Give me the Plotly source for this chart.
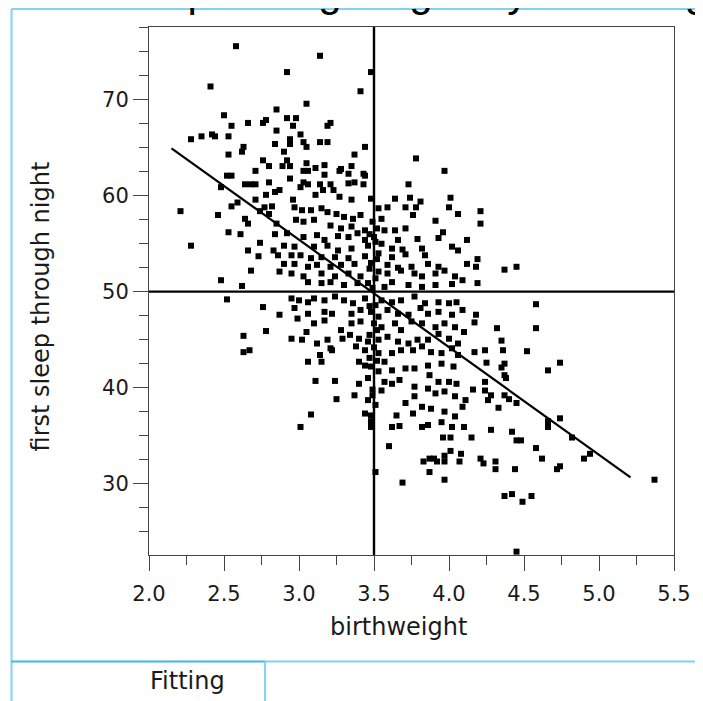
import plotly.graph_objects as go

# ---------------- data ----------------
bw_a = [2.58, 3.14, 2.92, 3.48, 3.41, 2.41, 3.05, 2.85, 2.50, 2.92, 2.98, 2.78, 2.76, 2.66, 2.55, 3.21, 3.19,
        2.96, 2.85, 2.35, 2.28, 2.42, 2.44, 2.53, 3.01, 2.94, 2.94, 2.84, 3.03, 3.14, 3.19, 2.63, 3.05, 3.44,
        2.62, 2.90, 2.53, 3.37, 2.76, 2.92, 2.80, 2.89, 2.94, 3.05, 3.17, 3.11, 3.28, 3.35, 2.71, 3.03, 3.06,
        3.17, 3.27, 3.33, 3.43, 3.44, 2.52, 2.55, 2.94, 2.48, 2.64, 2.68, 2.71, 2.80, 3.03, 3.06, 3.01, 3.14,
        3.16, 3.21, 3.23, 3.33, 3.37, 3.43, 2.78, 2.84, 2.87, 3.11, 3.27, 2.71, 2.96, 3.35, 3.48]
sl_a = [75.6, 74.6, 72.9, 72.9, 70.9, 71.4, 69.6, 69.0, 68.4, 68.1, 68.1, 67.9, 67.6, 67.6, 67.3, 67.6, 67.3,
        67.3, 66.8, 66.2, 65.9, 66.4, 66.2, 66.2, 66.4, 65.9, 65.4, 65.4, 65.6, 65.6, 65.6, 65.1, 65.1, 65.1,
        64.6, 64.6, 64.3, 64.3, 63.7, 63.7, 63.1, 63.1, 63.1, 63.4, 63.2, 62.9, 62.8, 63.1, 62.6, 62.6, 62.6,
        62.2, 62.6, 62.3, 62.3, 62.1, 62.1, 62.1, 61.8, 60.9, 61.2, 61.2, 61.2, 61.4, 61.4, 61.2, 60.9, 61.2,
        60.6, 61.2, 60.6, 61.3, 61.4, 61.2, 60.1, 60.4, 60.6, 60.1, 59.9, 59.6, 59.6, 59.6, 59.7]

bw_b = [3.78, 3.97, 3.73, 3.64, 3.74, 4.01]
sl_b = [63.9, 62.6, 61.2, 59.7, 59.8, 59.8]

bw_c = [2.59, 2.55, 2.77, 2.82, 2.74, 2.80, 2.64, 2.66, 2.85, 2.53, 2.61, 2.84, 2.74, 2.66, 2.73, 2.83,
        2.86, 2.68, 2.87, 2.48, 2.62, 2.52, 2.76, 2.87, 2.78, 2.63, 2.63, 2.67, 2.28, 2.21, 2.46]
sl_c = [59.3, 58.9, 58.8, 58.9, 58.4, 58.1, 57.6, 57.1, 57.1, 56.2, 56.0, 56.0, 55.1, 54.3, 53.7, 54.3,
        53.8, 52.2, 52.1, 51.2, 50.6, 49.2, 48.4, 47.6, 45.9, 45.4, 43.7, 43.9, 54.8, 58.4, 58.0]

bw_d = [3.81, 2.97, 3.02, 3.08, 3.15, 3.19, 3.25, 3.30, 3.36, 3.41, 3.53, 3.59, 3.71, 3.78, 4.00, 4.06,
        3.76, 3.55, 3.49, 2.98, 3.03, 3.10, 3.21, 3.28, 3.35, 3.44, 3.91, 3.52, 3.57, 3.64, 3.71, 3.96,
        2.92, 3.03, 3.12, 3.17, 3.26, 3.33, 3.39, 3.44, 3.50, 3.55, 3.66, 3.79, 3.93, 4.12,
        2.90, 2.97, 3.10, 3.19, 3.26, 3.35, 3.46, 3.62, 3.69, 3.82, 4.02, 4.06,
        2.95, 3.01, 3.08, 3.15, 3.24, 3.33, 3.44, 3.53, 3.62, 3.71, 3.84,
        2.90, 2.97, 3.06, 3.12, 3.21, 3.28, 3.37, 3.48, 3.59, 3.66, 3.75, 3.86, 3.93, 4.12,
        2.95, 3.03, 3.15, 3.24, 3.33, 3.41, 3.53, 3.59, 3.68, 3.77, 3.82, 3.91, 3.97, 4.04, 4.09,
        3.06, 3.15, 3.21, 3.30, 3.39, 3.46, 3.57, 3.62, 3.73, 3.82, 3.91, 4.02]
sl_d = [59.4, 58.8, 58.5, 58.5, 58.7, 58.3, 58.1, 57.8, 57.6, 58.0, 58.7, 58.8, 58.8, 58.8, 58.8, 58.1,
        58.0, 57.6, 57.3, 57.5, 57.3, 57.5, 56.9, 56.6, 56.8, 56.4, 57.4, 56.6, 56.4, 56.4, 56.6, 56.2,
        56.1, 55.7, 55.9, 55.4, 55.8, 55.7, 56.1, 55.4, 55.7, 55.0, 55.4, 55.5, 55.6, 55.4,
        54.8, 54.7, 54.7, 54.8, 54.3, 54.5, 54.8, 54.5, 54.4, 54.5, 54.7, 54.3,
        53.8, 53.8, 53.5, 53.6, 53.6, 53.5, 53.7, 54.0, 53.6, 53.9, 53.8,
        52.9, 52.9, 52.6, 52.8, 52.6, 52.8, 52.9, 53.0, 52.8, 52.5, 52.6, 52.9, 52.6, 52.9,
        51.9, 51.6, 51.9, 51.6, 51.9, 51.6, 52.1, 51.9, 52.2, 51.9, 51.6, 51.9, 52.2, 51.6, 51.2,
        51.0, 50.9, 51.0, 50.7, 50.9, 50.9, 50.5, 51.0, 50.7, 50.5, 50.7, 50.8]

bw_e = [2.95, 3.00, 3.06, 3.10, 3.17, 3.24, 3.30, 3.36, 3.44, 3.55, 3.62, 3.68, 3.77, 3.84, 3.93, 4.00, 4.05,
        2.97, 2.99, 3.06, 3.17, 3.22, 3.35, 3.41, 3.48, 3.53, 3.59, 3.66, 3.73, 3.81, 3.86, 3.93, 4.02, 4.09,
        3.10, 3.17, 3.28, 3.35, 3.41, 3.50, 3.55, 3.64, 3.68, 3.75, 3.82, 3.91, 3.97, 4.04, 4.10,
        2.95, 3.02, 3.05, 3.12, 3.19, 3.21, 3.29, 3.34, 3.40, 3.46, 3.53, 3.59, 3.66, 3.73, 3.79, 3.86, 3.93,
        4.00, 4.06,
        3.14, 3.22, 3.38, 3.44, 3.53, 3.62, 3.68, 3.76, 3.82, 3.88, 3.95, 4.02, 4.06,
        3.06, 3.15, 3.40, 3.44, 3.48, 3.57, 3.62, 3.71, 3.77, 3.86, 3.95, 4.03,
        3.11, 3.24, 3.40, 3.46, 3.53, 3.57, 3.62, 3.67, 3.77, 3.87, 3.93, 4.00, 4.05,
        3.25, 3.37, 3.46, 3.49, 3.55, 3.77, 3.86, 3.91, 3.97, 4.04, 4.11,
        3.08, 3.44, 3.48, 3.65, 3.71, 3.76, 3.82, 3.88, 3.97, 4.04, 4.09,
        3.01, 3.48, 3.62, 3.67, 3.82, 3.86, 3.95, 4.02, 4.10]
sl_e = [49.3, 49.1, 48.9, 49.3, 49.1, 49.5, 49.1, 48.8, 49.3, 49.1, 48.9, 49.1, 49.5, 48.8, 48.9, 48.8, 48.9,
        48.3, 47.2, 47.7, 47.9, 47.7, 47.7, 48.1, 47.9, 47.4, 48.1, 47.7, 47.6, 48.3, 47.7, 47.9, 47.6, 48.1,
        46.7, 47.0, 46.0, 46.7, 46.9, 46.7, 46.3, 46.7, 46.0, 46.9, 46.7, 46.3, 46.7, 46.3, 45.8,
        45.1, 45.0, 45.8, 44.6, 45.0, 44.1, 45.1, 45.5, 45.1, 44.8, 45.0, 45.3, 44.8, 44.6, 45.0, 45.0, 45.6,
        45.1, 44.6,
        43.4, 43.9, 44.3, 43.9, 43.6, 43.6, 43.9, 43.9, 44.3, 43.7, 43.6, 44.1, 43.4,
        42.7, 42.7, 42.7, 42.3, 42.2, 42.7, 41.8, 42.0, 42.0, 42.3, 42.5, 42.2,
        40.7, 40.7, 40.4, 41.0, 41.7, 40.6, 40.4, 40.8, 40.1, 41.3, 40.6, 40.6, 40.4,
        38.8, 39.2, 38.7, 39.2, 39.7, 39.1, 39.9, 39.4, 39.6, 39.1, 38.7,
        37.2, 37.3, 37.1, 37.1, 38.4, 37.3, 38.0, 37.8, 37.5, 37.0, 38.0,
        35.9, 35.9, 35.9, 36.0, 35.9, 36.1, 36.4, 35.9, 35.9]

bw_f = [4.21, 4.21, 4.19, 4.18, 4.19, 4.37, 4.45, 4.58, 4.58, 4.18, 4.17, 4.32, 4.35, 4.52, 4.24, 4.36,
        4.17, 4.25, 4.37, 4.74]
sl_f = [58.4, 57.1, 53.4, 52.6, 50.9, 52.3, 52.6, 48.7, 46.2, 47.6, 46.8, 46.2, 44.9, 43.8, 43.9, 43.9,
        43.7, 42.6, 42.5, 42.6]

bw_g = [4.66, 4.35, 4.37, 4.38, 4.24, 4.24, 4.16, 4.26, 4.28, 4.33, 4.37, 4.40, 4.45, 4.28, 4.42, 4.45,
        4.48, 4.58, 4.62, 4.66, 4.66, 4.74, 4.82, 4.90, 4.94, 4.74, 4.72, 5.37, 4.55, 4.49, 4.42, 4.37,
        4.44, 4.45, 4.31, 4.31, 4.21, 4.23, 3.96, 4.01, 4.15, 3.60, 4.01, 4.08, 3.83, 3.87, 3.90,
        3.92, 3.97, 3.97, 4.07, 3.87, 3.69, 3.97, 3.51]
sl_g = [41.8, 42.1, 41.3, 41.0, 40.6, 39.7, 39.8, 38.7, 39.2, 37.9, 39.2, 38.8, 38.4, 35.6, 35.4, 34.5,
        34.5, 33.7, 32.6, 36.5, 35.9, 36.8, 34.8, 32.6, 33.1, 31.8, 31.5, 30.4, 28.7, 28.1, 28.9, 28.7,
        31.5, 22.9, 31.5, 32.3, 32.6, 32.1, 34.8, 34.8, 34.8, 33.9, 33.4, 33.1, 32.3, 32.6, 32.6,
        32.3, 32.9, 32.3, 32.3, 31.2, 30.1, 30.4, 31.2]

# points in the solid black band along the 3.5 reference line
bw_h = [3.47, 3.51, 3.52, 3.47, 3.51, 3.49, 3.51, 3.47, 3.52, 3.47, 3.50, 3.47, 3.52, 3.49, 3.51, 3.48]
sl_h = [56.0, 55.2, 53.4, 52.4, 51.4, 50.4, 48.6, 48.5, 46.0, 45.5, 44.2, 43.1, 42.8, 39.8, 38.2, 36.5]

birthweight = bw_a + bw_b + bw_c + bw_d + bw_e + bw_f + bw_g + bw_h
first_sleep = sl_a + sl_b + sl_c + sl_d + sl_e + sl_f + sl_g + sl_h

# linear fit shown in the chart
fit_intercept = 89.05
fit_slope = -11.21
fit_x = [2.15, 5.21]
fit_y = [fit_intercept + fit_slope * v for v in fit_x]

ref_x = 3.5     # vertical reference line
ref_y = 50      # horizontal reference line

x_ticks = [2.0, 2.5, 3.0, 3.5, 4.0, 4.5, 5.0, 5.5]
y_ticks = [30, 40, 50, 60, 70]

title_text = "Bivariate Fit of first sleep through night By birthweight"
x_title = "birthweight"
y_title = "first sleep through night"
outline_label = "Fitting"

# ---------------- layout helpers ----------------
# the page body has an 8px margin, so the figure starts at window (8, 8)
OFF = 8
W, H = 703 - OFF, 701 - OFF
PLOT_L, PLOT_R, PLOT_T, PLOT_B = 149, 676, 27, 555          # window pixels
L, R, T, B = PLOT_L - OFF, W - (PLOT_R - OFF), PLOT_T - OFF, H - (PLOT_B - OFF)
PW, PH = W - L - R, H - T - B
XMAX, YMAX = 703, 701          # window extent reachable by the figure


def px(xw):
    """window x pixel -> paper x"""
    return (xw - OFF - L) / PW


def py(yw):
    """window y pixel -> paper y"""
    return (H - B - (yw - OFF)) / PH


FONT = "DejaVu Sans"
LIGHT_BLUE = "#80d2f2"
DARK_BLUE = "#3fb6e6"

fig = go.Figure()

fig.add_trace(go.Scatter(
    x=birthweight, y=first_sleep, mode="markers",
    marker=dict(symbol="square", size=6, color="black", line=dict(width=0)),
    showlegend=False, hoverinfo="x+y"))

fig.add_trace(go.Scatter(
    x=fit_x, y=fit_y, mode="lines",
    line=dict(color="black", width=2.2), showlegend=False))

axis_common = dict(
    showgrid=False, zeroline=False, showline=True, linecolor="#444", linewidth=1,
    mirror=True, ticks="outside", ticklen=15, tickwidth=1, tickcolor="#444",
    tickfont=dict(family=FONT, size=21, color="#1a1a1a"),
)

fig.update_xaxes(range=[2.0, 5.5], tickvals=x_ticks,
                 ticktext=[f"{v:.1f}" for v in x_ticks],
                 ticklabelstandoff=5,
                 minor=dict(dtick=0.25, tick0=2.0, ticks="outside", ticklen=9,
                            tickcolor="#444", tickwidth=1),
                 **axis_common)
fig.update_yaxes(range=[22.55, 77.6], tickvals=y_ticks,
                 ticktext=[str(v) for v in y_ticks],
                 minor=dict(dtick=2.5, tick0=0, ticks="outside", ticklen=9,
                            tickcolor="#444", tickwidth=1),
                 **axis_common)

annotations = [
    dict(text=x_title, x=px(399), y=py(627), xref="paper", yref="paper",
         showarrow=False, xanchor="center", yanchor="middle",
         font=dict(family=FONT, size=24, color="#1a1a1a")),
    dict(text=y_title, x=px(41), y=py(306), xref="paper", yref="paper",
         showarrow=False, xanchor="center", yanchor="middle", textangle=-90,
         font=dict(family=FONT, size=24, color="#1a1a1a")),
    dict(text=outline_label, x=px(188), y=py(681), xref="paper", yref="paper",
         showarrow=False, xanchor="center", yanchor="middle",
         font=dict(family=FONT, size=24, color="#1a1a1a")),
    dict(text=title_text, x=px(747), y=py(17), xref="paper", yref="paper",
         showarrow=False, xanchor="right", yanchor="bottom",
         font=dict(family="Liberation Sans", size=42, color="black")),
]


def seg(x0, y0, x1, y1, color):
    return dict(type="line", xref="paper", yref="paper",
                x0=px(x0), x1=px(x1), y0=py(y0), y1=py(y1),
                line=dict(color=color, width=2), layer="above")


shapes = [
    seg(11, 9, XMAX, 9, LIGHT_BLUE),              # top edge of outline
    seg(11, 9, 11, YMAX, LIGHT_BLUE),             # left edge of outline
    seg(265.5, 661.5, XMAX, 661.5, LIGHT_BLUE),   # outline separator (right part)
    seg(11, 661.5, 265.5, 661.5, DARK_BLUE),      # "Fitting" header top
    seg(265.5, 661.5, 265.5, YMAX, LIGHT_BLUE),   # "Fitting" header right edge
]

fig.update_layout(
    width=W, height=H, margin=dict(l=L, r=R, t=T, b=B, pad=0),
    paper_bgcolor="white", plot_bgcolor="white",
    annotations=annotations, shapes=shapes, showlegend=False,
)

# reference lines (appended after the outline shapes)
fig.add_vline(x=ref_x, line=dict(color="black", width=2.4))
fig.add_hline(y=ref_y, line=dict(color="black", width=2.2))

fig.write_html("out.html")
